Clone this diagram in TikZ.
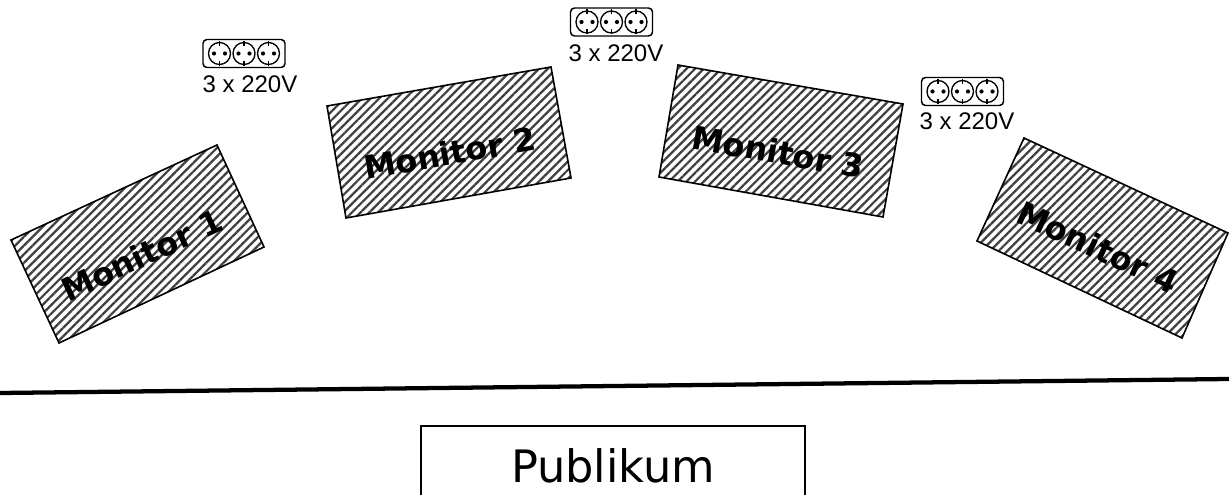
\documentclass[tikz,border=0pt]{standalone}
\usepackage{fontspec}
\setmainfont{Liberation Sans}
\newfontfamily\labelfont{DejaVu Sans}
\usetikzlibrary{calc, patterns.meta}
\tikzset{
	monitor/.style={draw, line width=1.2pt, pattern={Lines[angle=45, distance=4.6pt, line width=1.7pt]}, pattern color=black!75},
	monitorlabel/.style={font=\labelfont\bfseries\fontsize{24}{24}\selectfont, anchor=center, inner sep=0pt},
	powerlabel/.style={font=\fontsize{18}{18}\selectfont, anchor=base, inner sep=0pt},
	sockets/.pic={
		\draw [line width=1.1pt, rounded corners=3pt] (-41,-14) rectangle (41,14);
		\foreach \i in {-24.5,0,24.5} {
			\draw [line width=1pt] (\i,0) circle (11);
			\fill (\i-5.5,0) circle (2.1);
			\fill (\i+5.5,0) circle (2.1);
			\draw [line width=1.4pt] (\i,-12.5) -- (\i,-7.5);
			\draw [line width=1.4pt] (\i,12.5) -- (\i,7.5);
		}
	}
}
\begin{document}
\begin{tikzpicture}[x=.75pt, y=-.75pt]
	\useasboundingbox (0,0) rectangle (1229,495);
	\clip (0,0) rectangle (1229,495);
	% monitors
	\coordinate (A1) at (11,240);
	\coordinate (B1) at (217,145);
	\coordinate (C1) at (264,247);
	\coordinate (D1) at (59,343);
	\coordinate (A2) at (327,106);
	\coordinate (B2) at (551,67);
	\coordinate (C2) at (571,178);
	\coordinate (D2) at (346,218);
	\coordinate (A3) at (678,65);
	\coordinate (B3) at (903,104);
	\coordinate (C3) at (883,217);
	\coordinate (D3) at (659,177);
	\coordinate (A4) at (1024,138);
	\coordinate (B4) at (1228,233);
	\coordinate (C4) at (1182,338);
	\coordinate (D4) at (977,241);
	\foreach \m in {1,2,3,4} {
		\draw [monitor] (A\m) -- (B\m) -- (C\m) -- (D\m) -- cycle;
	}
	\node [monitorlabel, rotate=25] (mon1) at (142,255) {Monitor 1};
	\node [monitorlabel, rotate=10] (mon2) at (450,153) {Monitor 2};
	\node [monitorlabel, rotate=-10] (mon3) at (778,152) {Monitor 3};
	\node [monitorlabel, rotate=-25] (mon4) at (1098,247) {Monitor 4};
	% power
	\path (244,53.5) pic {sockets};
	\path (611.5,22) pic {sockets};
	\path (962.5,91.5) pic {sockets};
	\node [powerlabel] (pow1) at (250,93) {3 x 220V};
	\node [powerlabel] (pow2) at (616,62) {3 x 220V};
	\node [powerlabel] (pow3) at (967,130) {3 x 220V};
	% stage edge and audience
	\coordinate (L) at (0,393);
	\coordinate (R) at (1229,379);
	\draw [line width=3.2pt] (L) -- (R);
	\draw [line width=1.2pt] (421,505) rectangle (805,426);
	\node [font=\labelfont\fontsize{33.5}{33.5}\selectfont, anchor=base, inner sep=0pt] (pub) at (613,482) {Publikum};
\end{tikzpicture}
\end{document}
